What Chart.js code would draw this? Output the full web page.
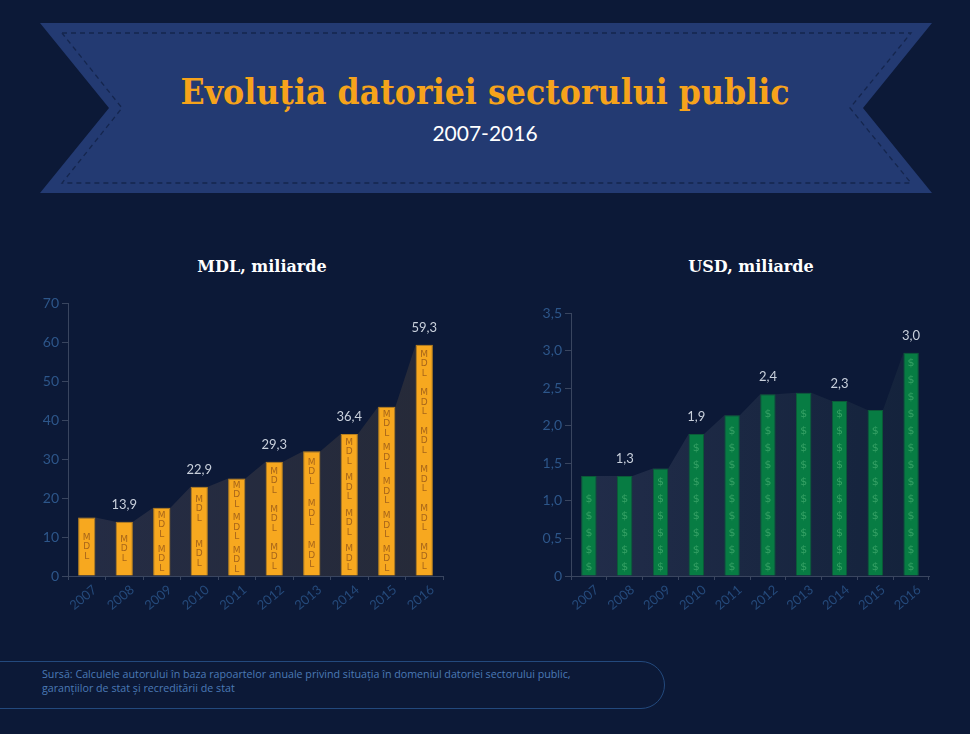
<!DOCTYPE html>
<html lang="ro">
<head>
<meta charset="utf-8">
<title>Evoluția datoriei sectorului public</title>
<script src="https://cdn.jsdelivr.net/npm/chart.js@4.4.1/dist/chart.umd.min.js"></script>
<style>
  html, body { margin: 0; padding: 0; }
  body {
    width: 970px; height: 734px; position: relative; overflow: hidden;
    background: #0c1937; font-family: 'Open Sans', sans-serif;
  }
  #banner { position: absolute; left: 0; top: 0; }
  .title {
    position: absolute; left: 0; top: 70px; width: 970px; text-align: center;
    font-family: 'DejaVu Serif', serif; font-weight: bold; font-size: 36px; color: #f6a31b;
  }
  .title span { display: inline-block; transform: scaleX(0.88); white-space: nowrap; }
  .subtitle {
    position: absolute; left: 0; top: 120px; width: 970px; text-align: center;
    font-family: Lato, sans-serif; font-size: 21px; color: #ffffff;
  }
  .chart-title {
    position: absolute; top: 257px; width: 300px; text-align: center;
    font-family: 'DejaVu Serif', serif; font-weight: bold; font-size: 16px; color: #ffffff;
  }
  .box { position: absolute; }
  .source {
    position: absolute; left: -30px; top: 661px; width: 693px; height: 46px;
    border: 1px solid #23497d; border-radius: 24px;
  }
  .source p {
    position: absolute; left: 71px; top: 5px; margin: 0;
    font-size: 10.7px; line-height: 14px; color: #4b79b6;
  }
</style>
</head>
<body>
<svg id="banner" width="970" height="210">
  <polygon points="40,23 932,23 863,108 932,193 40,193 109,108" fill="#233a72"/>
  <polyline points="62,33 911,33 850,108 911,183 62,183 122,108 62,33" fill="none"
            stroke="#15264e" stroke-width="1.3" stroke-dasharray="5,4"/>
</svg>
<div class="title"><span>Evoluția datoriei sectorului public</span></div>
<div class="subtitle">2007-2016</div>

<div class="chart-title" style="left:112px">MDL, miliarde</div>
<div class="chart-title" style="left:601px">USD, miliarde</div>

<div class="box" style="left:0; top:290px; width:460px; height:336px">
  <canvas id="mdlChart" width="460" height="336"></canvas>
</div>
<div class="box" style="left:500px; top:300px; width:450px; height:326px">
  <canvas id="usdChart" width="450" height="326"></canvas>
</div>

<div class="source">
  <p>Sursă: Calculele autorului în baza rapoartelor anuale privind situația în domeniul datoriei sectorului public,<br>garanțiilor de stat și recreditării de stat</p>
</div>

<script>
// Data
const years = ['2007', '2008', '2009', '2010', '2011', '2012', '2013', '2014', '2015', '2016'];
const debtMDL = [15.0, 13.9, 17.5, 22.9, 25.0, 29.3, 32.0, 36.4, 43.4, 59.3];
const debtUSD = [1.33, 1.33, 1.43, 1.89, 2.14, 2.42, 2.44, 2.33, 2.21, 2.97];
const labelledYears = ['2008', '2010', '2012', '2014', '2016'];
const mdlAxis = { max: 70, step: 10 };
const usdAxis = { max: 3.5, step: 0.5 };

const AXIS_COLOR = '#39455f';
const commaNum = v => v.toFixed(1).replace('.', ',');

// shaded area behind the bars + glyphs inside bars + value labels
const barDecor = {
  id: 'barDecor',
  beforeDatasetsDraw(chart, args, opts) {
    const bars = chart.getDatasetMeta(0).data;
    const base = chart.scales.y.getPixelForValue(0);
    const ctx = chart.ctx;
    const area = chart.chartArea;
    const grad = ctx.createLinearGradient(area.left, 0, area.right, 0);
    grad.addColorStop(0, opts.areaFrom);
    grad.addColorStop(1, opts.areaTo);
    ctx.save();
    ctx.beginPath();
    bars.forEach((bar, i) => {
      const l = bar.x - bar.width / 2, r = bar.x + bar.width / 2;
      if (i === 0) ctx.moveTo(l, base);
      ctx.lineTo(l, bar.y);
      ctx.lineTo(r, bar.y);
    });
    const last = bars[bars.length - 1];
    ctx.lineTo(last.x + last.width / 2, base);
    ctx.closePath();
    ctx.fillStyle = grad;
    ctx.fill();
    ctx.restore();
  },
  afterDatasetsDraw(chart, args, opts) {
    const bars = chart.getDatasetMeta(0).data;
    const values = chart.data.datasets[0].data;
    const base = chart.scales.y.getPixelForValue(0);
    const ctx = chart.ctx;
    ctx.save();
    ctx.textAlign = 'center';
    ctx.textBaseline = 'middle';
    bars.forEach((bar, i) => {
      const h = base - bar.y;
      ctx.fillStyle = opts.glyphColor;
      if (opts.glyph === 'MDL') {
        ctx.font = '9px "DejaVu Sans"';
        const n = Math.max(1, Math.round((h - 10) / 35));
        const slot = h / n;
        for (let k = 0; k < n; k++) {
          const cy = base - slot * (k + 0.5);
          ['M', 'D', 'L'].forEach((ch, j) => ctx.fillText(ch, bar.x, cy + (j - 1) * 9.5));
        }
      } else {
        ctx.font = '11px "DejaVu Sans"';
        const n = Math.floor((h - 15) / 17) + 1;
        for (let k = 0; k < n; k++) ctx.fillText('$', bar.x, base - 9 - k * 17);
      }
      if (labelledYears.includes(chart.data.labels[i])) {
        ctx.fillStyle = '#c9d0dc';
        ctx.font = '13px Lato';
        ctx.fillText(opts.format(values[i]), bar.x, bar.y - 17);
      }
    });
    ctx.restore();
  }
};

function makeChart(canvasId, values, axis, cfg) {
  const ctx = document.getElementById(canvasId).getContext('2d');
  return new Chart(ctx, {
    type: 'bar',
    data: {
      labels: years,
      datasets: [{
        data: values,
        backgroundColor: cfg.barColor,
        borderColor: cfg.borderColor,
        borderWidth: 1,
        categoryPercentage: 1,
        barPercentage: cfg.barPct
      }]
    },
    options: {
      responsive: false,
      animation: false,
      layout: { padding: { top: 13, right: cfg.padRight, bottom: 0, left: 0 } },
      scales: {
        x: {
          afterFit: s => { s.height = 50; },
          grid: { drawOnChartArea: false, tickLength: 4, color: AXIS_COLOR, offset: true },
          border: { color: AXIS_COLOR },
          ticks: {
            color: '#254a7b',
            font: { family: 'Lato', size: 13 },
            minRotation: 40, maxRotation: 40,
            autoSkip: false,
            labelOffset: 8,
            padding: 2
          }
        },
        y: {
          min: 0,
          max: axis.max,
          afterFit: s => { s.width = cfg.axisWidth; },
          grid: { drawOnChartArea: false, tickLength: 6, color: AXIS_COLOR },
          border: { color: AXIS_COLOR },
          ticks: {
            stepSize: axis.step,
            color: '#2d568a',
            font: { family: 'Lato', size: 14 },
            padding: 3,
            callback: cfg.tickFormat
          }
        }
      },
      plugins: {
        legend: { display: false },
        tooltip: { enabled: false },
        barDecor: cfg.decor
      }
    },
    plugins: [barDecor]
  });
}

makeChart('mdlChart', debtMDL, mdlAxis, {
  barColor: '#f7a81f',
  borderColor: '#b8801f',
  barPct: 0.46,
  padRight: 17,
  axisWidth: 68,
  tickFormat: v => String(v),
  decor: { areaFrom: '#242c45', areaTo: '#262a38', glyph: 'MDL', glyphColor: '#a7651a', format: commaNum }
});

makeChart('usdChart', debtUSD, usdAxis, {
  barColor: '#077c43',
  borderColor: '#0b5b38',
  barPct: 0.43,
  padRight: 21,
  axisWidth: 71,
  tickFormat: v => (v === 0 ? '0' : commaNum(v)),
  decor: { areaFrom: '#222d4a', areaTo: '#13223b', glyph: '$', glyphColor: '#35a064', format: commaNum }
});
</script>
</body>
</html>
